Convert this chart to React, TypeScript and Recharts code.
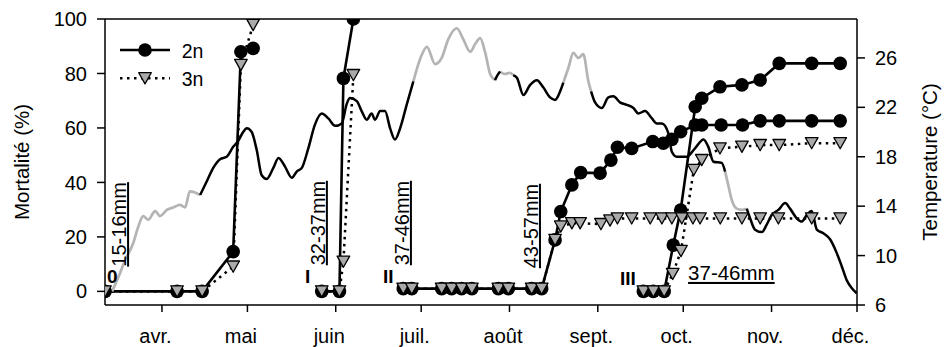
import {
  ComposedChart,
  Line,
  Scatter,
  XAxis,
  YAxis,
  ReferenceLine,
  Legend,
} from "recharts";

const FONT = '"Liberation Sans", Arial, Helvetica, sans-serif';

// x axis is day of year (1 = 1 Jan), ticks on the first of each month
const MONTH_DAYS = [91, 121, 152, 182, 213, 244, 274, 305, 335];
const MONTH_NAMES = ["avr.", "mai", "juin", "juil.", "août", "sept.", "oct.", "nov.", "déc."];
const MORT_TICKS = [0, 20, 40, 60, 80, 100];
const TEMP_TICKS = [6, 10, 14, 18, 22, 26];

// cohort 0
const C0_DAYS = [71, 96.3, 105.1, 116.0, 118.7, 123.0];
const C0_2N = [0, 0, 0, 14.6, 88.0, 89.2];
const C0_3N = [0, 0, 0, 9.1, 83.1, 97.8];

// cohort I
const C1_DAYS = [147.1, 153.3, 154.7, 158.2];
const C1_2N = [0, 0, 78.2, 100];
const C1_3N = [0, 0, 10.9, 79.4];

// cohort II
const C2_2N_DAYS = [
  175.7, 178.7, 189.2, 192.7, 196.2, 199.8, 209.1, 212.6, 220.8, 224.3, 229.0, 231.0, 234.9,
  238.0, 244.8, 248.6, 250.9, 255.9, 263.3, 267.0, 270.0, 273.1, 278.2, 280.5, 287.3, 294.8,
  301.0, 307.7, 319.1, 329.1,
];
const C2_2N = [
  1, 1, 1, 1, 1, 1, 1, 1, 1, 1, 18.9, 29.3, 39.1, 43.6, 43.4, 48.2, 52.9, 52.5, 55.0, 54.4, 55.8,
  58.6, 61.1, 61.1, 61.1, 61.1, 62.6, 62.6, 62.6, 62.6,
];
const C2_3N_DAYS = [
  175.7, 178.7, 189.2, 192.7, 196.2, 199.8, 209.1, 212.6, 220.8, 224.3, 229.0, 231.0, 234.9,
  237.8, 245.1, 248.3, 250.9, 255.9, 262.4, 266.5, 270.0, 273.5, 277.4, 279.9, 287.0, 294.6,
  301.0, 307.4, 319.1, 329.1,
];
const C2_3N = [
  1, 1, 1, 1, 1, 1, 1, 1, 1, 1, 18.9, 23.8, 25.0, 25.0, 24.7, 26.0, 26.8, 26.8, 26.8, 26.8, 26.8,
  26.8, 26.8, 26.8, 26.8, 26.8, 26.8, 26.8, 26.8, 26.8,
];

// cohort III
const C3_2N_DAYS = [260.0, 263.5, 267.3, 270.5, 273.1, 278.2, 280.5, 286.9, 294.6, 301.0, 307.7, 319.1, 329.1];
const C3_2N = [0, 0, 0, 17.0, 29.9, 67.8, 70.9, 75.1, 75.8, 77.6, 83.7, 83.7, 83.7];
const C3_3N_DAYS = [260.0, 263.5, 267.3, 270.3, 273.2, 277.7, 280.5, 286.9, 294.6, 301.0, 307.7, 319.1, 329.1];
const C3_3N = [0, 0, 0, 6.4, 14.8, 44.6, 48.2, 52.5, 53.1, 53.7, 53.7, 54.4, 54.4];

// water temperature (°C)
const TEMP_DAYS = [
  73.5, 76.3, 78.0, 80.9, 82.7, 84.4, 86.2, 88.6, 90.3, 92.7, 95.0, 97.3, 99.1, 100.8, 102.6,
  104.4, 106.7, 109.0, 111.4, 113.7, 116.0, 117.8, 119.5, 120.8, 122.5, 124.3, 126.0, 127.8,
  130.1, 131.9, 134.2, 136.6, 138.3, 140.1, 142.4, 144.7, 147.1, 149.4, 151.8, 154.1, 155.9,
  157.0, 159.4, 161.1, 162.9, 164.6, 165.8, 167.6, 169.3, 171.1, 172.8, 174.6, 176.9, 179.25,
  181.6, 184.0, 186.9, 189.2, 191.5, 194.5, 196.8, 199.2, 200.9, 202.7, 204.4, 206.2, 207.9,
  208.8, 209.7, 211.4, 213.2, 214.3, 215.6, 217.9, 220.2, 222.6, 224.9, 227.25, 229.0, 230.8,
  231.9, 233.7, 235.4, 237.2, 238.9, 240.7, 241.65, 243.05, 245.4, 247.7, 249.5, 251.8, 254.2,
  256.5, 258.25, 260.6, 263.0, 264.7, 266.5, 268.8, 270.0, 271.7, 275.25, 278.2, 281.1, 282.8,
  284.6, 287.5, 288.7, 289.9, 291.05, 292.8, 294.6, 296.3, 297.5, 299.2, 301.6, 303.3, 305.1,
  307.4, 309.8, 311.5, 313.9, 315.6, 317.4, 319.1, 320.9, 323.2, 325.6, 327.9, 329.7, 331.4,
  333.2, 334.9,
];
const TEMP_C = [
  7.1, 8.6, 9.6, 11.0, 12.35, 13.2, 12.9, 13.6, 13.2, 13.7, 13.9, 14.1, 13.9, 15.2, 15.1, 14.9,
  16.0, 17.1, 17.8, 18.0, 18.8, 19.3, 20.0, 20.3, 20.0, 18.5, 16.5, 16.2, 17.1, 17.9, 17.2, 16.3,
  16.8, 17.1, 18.7, 20.6, 21.5, 21.1, 20.5, 20.7, 22.3, 22.75, 22.5, 21.7, 21.0, 21.5, 21.0, 21.7,
  21.7, 20.3, 19.4, 20.3, 22.2, 24.1, 25.9, 26.9, 25.5, 26.0, 27.5, 28.4, 27.5, 26.5, 27.1, 27.6,
  26.5, 24.7, 24.2, 24.6, 24.9, 24.7, 24.8, 24.6, 24.4, 23.0, 23.8, 24.2, 23.6, 22.8, 22.6, 23.3,
  24.0, 25.2, 26.4, 26.0, 26.3, 24.1, 23.3, 22.4, 21.95, 22.8, 22.9, 22.4, 22.2, 21.95, 21.5,
  21.7, 21.1, 20.7, 20.7, 19.9, 18.4, 18.0, 18.0, 18.7, 19.4, 18.8, 17.6, 17.5, 16.8, 15.6, 14.5,
  13.8, 13.7, 13.8, 13.0, 12.1, 11.9, 12.5, 13.3, 13.7, 14.25, 13.8, 13.0, 12.75, 13.3, 13.6,
  12.1, 11.8, 11.3, 10.2, 9.1, 8.0, 7.35, 6.95,
];
// stretches of the temperature record drawn in grey
const TEMP_GREY = [
  [73.5, 104.4],
  [179.25, 207.9],
  [209.7, 214.3],
  [231.9, 241.65],
  [288.7, 296.3],
];

// cohort marks and size classes
const COHORT_NAMES = ["0", "I", "II", "III"];
const COHORT_DAY = [71.7, 141.2, 168.6, 251.8];
const COHORT_PCT = [3.1, 3.1, 3.1, 2.4];
const SIZE_NAMES = ["15-16mm", "32-37mm", "37-46mm", "43-57mm", "37-46mm"];
const SIZE_DAY = [78.4, 148.2, 177.7, 223.0, 275.7];
const SIZE_PCT = [24.6, 25.1, 25.1, 24.0, 4.2];
const SIZE_VERTICAL = [true, true, true, true, false];

const rows = (days: number[], vals: number[]) => days.map((day, i) => ({ day, v: vals[i] }));

const tempRows = TEMP_DAYS.map((day, i) => {
  const t = TEMP_C[i];
  const grey = TEMP_GREY.some(([a, b]) => day >= a && day <= b);
  const black = !TEMP_GREY.some(([a, b]) => day > a && day < b);
  return { day, black: black ? t : null, grey: grey ? t : null };
});

const notes = [
  ...COHORT_NAMES.map((text, i) => ({ day: COHORT_DAY[i], pct: COHORT_PCT[i], text, kind: "cohort" })),
  ...SIZE_NAMES.map((text, i) => ({
    day: SIZE_DAY[i],
    pct: SIZE_PCT[i],
    text,
    kind: SIZE_VERTICAL[i] ? "vsize" : "hsize",
  })),
];

const TRI_FILL = "#aaaaaa";

const circleDot = (p: any) =>
  p.cx == null || p.cy == null ? (
    <g key={p.index} />
  ) : (
    <circle key={p.index} cx={p.cx} cy={p.cy} r={6.8} fill="#000" />
  );

const triPoints = (cx: number, cy: number) =>
  `${cx - 6.3},${cy - 5.6} ${cx + 6.3},${cy - 5.6} ${cx},${cy + 5.6}`;

const triangleDot = (p: any) =>
  p.cx == null || p.cy == null ? (
    <g key={p.index} />
  ) : (
    <polygon
      key={p.index}
      points={triPoints(p.cx, p.cy)}
      fill={TRI_FILL}
      stroke="#000"
      strokeWidth={1.3}
      strokeLinejoin="round"
    />
  );

const noteShape = (p: any) => {
  const { cx, cy, payload } = p;
  if (payload.kind === "cohort") {
    return (
      <text x={cx} y={cy} fontSize={19} fontWeight="bold" fill="#000">
        {payload.text}
      </text>
    );
  }
  if (payload.kind === "vsize") {
    return (
      <text
        x={cx}
        y={cy}
        transform={`rotate(-90 ${cx} ${cy})`}
        textAnchor="middle"
        fontSize={20}
        fill="#000"
        textDecoration="underline"
      >
        {payload.text}
      </text>
    );
  }
  return (
    <text x={cx} y={cy} fontSize={20.5} fill="#000" textDecoration="underline">
      {payload.text}
    </text>
  );
};

const MonthTick = (p: any) => (
  <text x={p.x - 6.5} y={p.y} dy="0.71em" textAnchor="middle" fontSize={20} fill="#000">
    {MONTH_NAMES[MONTH_DAYS.indexOf(p.payload.value)]}
  </text>
);

const axisTitle = (text: string, dx: number) => (props: any) => {
  const { x, y, height } = props.viewBox;
  const tx = x + dx;
  const ty = y + height / 2;
  return (
    <text x={tx} y={ty} transform={`rotate(-90 ${tx} ${ty})`} textAnchor="middle" fontSize={20.5} fill="#000">
      {text}
    </text>
  );
};

const renderLegend = () => (
  <svg width={120} height={60} style={{ display: "block", overflow: "visible" }}>
    <line x1={10} y1={15} x2={60} y2={15} stroke="#000" strokeWidth={2.6} />
    <circle cx={35} cy={15} r={6.8} fill="#000" />
    <text x={71.7} y={22.5} fontSize={19.5} fill="#000" fontFamily={FONT}>
      2n
    </text>
    <line x1={10} y1={43.3} x2={60} y2={43.3} stroke="#000" strokeWidth={2.5} strokeDasharray="2.5 4.5" />
    <polygon points={triPoints(35, 43.3)} fill={TRI_FILL} stroke="#000" strokeWidth={1.3} strokeLinejoin="round" />
    <text x={71.7} y={50.8} fontSize={19.5} fill="#000" fontFamily={FONT}>
      3n
    </text>
  </svg>
);

const AXIS = { stroke: "#000", strokeWidth: 1.5 };

export default function App() {
  return (
    <div
      style={{
        position: "absolute",
        left: 0,
        top: 0,
        width: 945,
        height: 347,
        background: "#fff",
        fontFamily: FONT,
      }}
    >
      <ComposedChart width={945} height={347} margin={{ top: 19, right: 0, bottom: 0, left: 0 }}>
        <XAxis
          type="number"
          dataKey="day"
          domain={[71, 335]}
          ticks={MONTH_DAYS}
          allowDataOverflow
          height={42}
          tickSize={7}
          tickMargin={17}
          tick={MonthTick}
          axisLine={AXIS}
          tickLine={AXIS}
        />
        <YAxis
          yAxisId="left"
          type="number"
          domain={[-5, 100]}
          ticks={MORT_TICKS}
          allowDataOverflow
          width={105}
          tickSize={8}
          tickMargin={10}
          tick={{ fill: "#000", fontSize: 20 }}
          axisLine={AXIS}
          tickLine={AXIS}
          label={axisTitle("Mortalité (%)", 29)}
        />
        <YAxis
          yAxisId="right"
          orientation="right"
          type="number"
          domain={[6, 29.15]}
          ticks={TEMP_TICKS}
          allowDataOverflow
          width={88}
          tickSize={8}
          tickMargin={10}
          tick={{ fill: "#000", fontSize: 20 }}
          axisLine={AXIS}
          tickLine={AXIS}
          label={axisTitle("Temperature (°C)", 80)}
        />
        <ReferenceLine yAxisId="left" y={100} stroke="#000" strokeWidth={1.5} />
        <Legend
          layout="vertical"
          align="center"
          verticalAlign="middle"
          content={renderLegend}
          wrapperStyle={{ left: 110, top: 35, width: 120, height: 60 }}
        />

        <Scatter
          data={notes}
          dataKey="pct"
          yAxisId="left"
          shape={noteShape}
          isAnimationActive={false}
        />

        <Line data={rows(C0_DAYS, C0_2N)} dataKey="v" yAxisId="left" type="linear" stroke="#000" strokeWidth={2.6} dot={circleDot} activeDot={false} isAnimationActive={false} />
        <Line data={rows(C1_DAYS, C1_2N)} dataKey="v" yAxisId="left" type="linear" stroke="#000" strokeWidth={2.6} dot={circleDot} activeDot={false} isAnimationActive={false} />
        <Line data={rows(C2_2N_DAYS, C2_2N)} dataKey="v" yAxisId="left" type="linear" stroke="#000" strokeWidth={2.6} dot={circleDot} activeDot={false} isAnimationActive={false} />
        <Line data={rows(C3_2N_DAYS, C3_2N)} dataKey="v" yAxisId="left" type="linear" stroke="#000" strokeWidth={2.6} dot={circleDot} activeDot={false} isAnimationActive={false} />

        <Line data={rows(C0_DAYS, C0_3N)} dataKey="v" yAxisId="left" type="linear" stroke="#000" strokeWidth={2.5} strokeDasharray="2.5 4.5" dot={triangleDot} activeDot={false} isAnimationActive={false} />
        <Line data={rows(C1_DAYS, C1_3N)} dataKey="v" yAxisId="left" type="linear" stroke="#000" strokeWidth={2.5} strokeDasharray="2.5 4.5" dot={triangleDot} activeDot={false} isAnimationActive={false} />
        <Line data={rows(C2_3N_DAYS, C2_3N)} dataKey="v" yAxisId="left" type="linear" stroke="#000" strokeWidth={2.5} strokeDasharray="2.5 4.5" dot={triangleDot} activeDot={false} isAnimationActive={false} />
        <Line data={rows(C3_3N_DAYS, C3_3N)} dataKey="v" yAxisId="left" type="linear" stroke="#000" strokeWidth={2.5} strokeDasharray="2.5 4.5" dot={triangleDot} activeDot={false} isAnimationActive={false} />

        <Line data={tempRows} dataKey="grey" yAxisId="right" type="monotone" stroke="#b4b4b4" strokeWidth={2.7} dot={false} activeDot={false} isAnimationActive={false} />
        <Line data={tempRows} dataKey="black" yAxisId="right" type="monotone" stroke="#000" strokeWidth={2.5} dot={false} activeDot={false} isAnimationActive={false} />
      </ComposedChart>
    </div>
  );
}
